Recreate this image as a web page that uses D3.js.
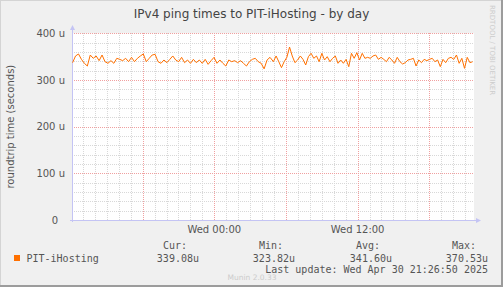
<!DOCTYPE html>
<html>
<head>
<meta charset="utf-8">
<script src="https://cdn.jsdelivr.net/npm/d3@7"></script>
<style>
    body { margin: 0; background: #f0f0f0; }
    svg { display: block; }
    .sans { font-family: "DejaVu Sans", sans-serif; }
    .mono { font-family: "DejaVu Sans Mono", monospace; }
</style>
</head>
<body>
<div id="chart"></div>
<script>

    var title = "IPv4 ping times to PIT-iHosting - by day";
    var yTitle = "roundtrip time (seconds)";
    var seriesName = "PIT-iHosting";
    var yTicks = [0, 100, 200, 300, 400];
    var xLabelTimes = ["2025-04-30 00:00", "2025-04-30 12:00"];
    var xLabels = ["Wed 00:00", "Wed 12:00"];

    var statNames = ["Cur:", "Min:", "Avg:", "Max:"];
    var statValues = ["339.08u", "323.82u", "341.60u", "370.53u"];
    var lastUpdate = "Last update: Wed Apr 30 21:26:50 2025";

    // visible time window of the graph
    var windowSpan = ["2025-04-29 12:05", "2025-04-30 21:45"];

    // ping samples (microseconds) in two runs
    var runA = ["2025-04-29 12:08", "2025-04-30 04:40"];
    var valuesA = [
        337.1, 351.4, 355.7, 344.2, 335.7, 329.9, 353.5, 346.4, 351.4, 341.4,
        353.5, 339.2, 335.7, 341.4, 335.7, 346.4, 344.2, 341.4, 346.4, 339.2,
        348.5, 339.2, 346.4, 351.4, 355.7, 339.2, 346.4, 353.5, 354.9, 339.2,
        335.7, 342.8, 337.1, 344.2, 351.4, 342.8, 339.2, 348.5, 337.1, 342.8,
        335.7, 344.2, 337.1, 342.8, 335.7, 344.2, 333.5, 341.4, 348.5, 335.7,
        342.8, 335.7, 329.9, 342.8, 339.2, 341.4, 337.1, 341.4, 335.7, 329.9,
        339.2, 344.2, 346.4, 339.2, 335.7, 323.8, 342.8, 348.5
    ];
    var runB = ["2025-04-30 04:57", "2025-04-30 21:38"];
    var valuesB = [
        339.2, 351.4, 339.2, 326.4, 339.2, 348.5, 370.5, 351.4, 337.1, 342.8,
        351.4, 344.2, 332.1, 349.9, 357.1, 346.4, 351.4, 339.2, 357.1, 342.8,
        349.9, 339.2, 346.4, 351.4, 335.7, 342.8, 335.7, 344.2, 328.5, 357.1,
        346.4, 358.5, 342.8, 357.1, 346.4, 348.5, 346.4, 351.4, 353.5, 344.2,
        348.5, 344.2, 339.2, 348.5, 342.8, 335.7, 348.5, 339.2, 334.2, 337.1,
        342.8, 344.2, 346.4, 329.9, 342.8, 337.1, 344.2, 341.4, 344.2, 346.4,
        339.2, 342.8, 328.5, 344.2, 337.1, 346.4, 348.5, 344.2, 353.5, 335.7,
        346.4, 324.9, 348.5, 337.1, 339.1
    ];

    var parse = d3.utcParse("%Y-%m-%d %H:%M");

    function spread(run, values) {
        var t0 = parse(run[0]).getTime(), t1 = parse(run[1]).getTime();
        var step = (t1 - t0) / (values.length - 1);
        return values.map(function (v, i) { return {t: new Date(t0 + i * step), v: v}; });
    }
    var data = spread(runA, valuesA).concat(spread(runB, valuesB));

    var W = 503, H = 287;
    var plot = {left: 72, right: 474, top: 33.3, bottom: 220};

    var svg = d3.select("#chart").append("svg")
        .attr("width", W)
        .attr("height", H);

    svg.append("rect").attr("width", W).attr("height", H).attr("fill", "#f0f0f0");
    // bevelled frame
    svg.append("line").attr("x1", 0).attr("y1", 0.5).attr("x2", W).attr("y2", 0.5).attr("stroke", "#d4d4d4");
    svg.append("line").attr("x1", 0.5).attr("y1", 0).attr("x2", 0.5).attr("y2", H).attr("stroke", "#d4d4d4");
    svg.append("rect").attr("x", W - 2).attr("y", 0).attr("width", 2).attr("height", H).attr("fill", "#9c9c9c");
    svg.append("rect").attr("x", 0).attr("y", H - 2).attr("width", W).attr("height", 2).attr("fill", "#9c9c9c");

    var x = d3.scaleUtc()
        .domain([parse(windowSpan[0]), parse(windowSpan[1])])
        .range([plot.left, plot.right]);

    var y = d3.scaleLinear()
        .domain([0, 400])
        .range([plot.bottom, plot.top]);

    // plot canvas
    svg.append("rect")
        .attr("x", plot.left).attr("y", plot.top)
        .attr("width", plot.right - plot.left)
        .attr("height", plot.bottom - plot.top)
        .attr("fill", "#ffffff");

    var grid = svg.append("g").attr("shape-rendering", "crispEdges");

    // minor grid
    var minorY = d3.range(20, 401, 20).filter(function (d) { return d % 100 !== 0; });
    grid.selectAll("line.minory").data(minorY).enter().append("line")
        .attr("x1", plot.left).attr("x2", plot.right)
        .attr("y1", function (d) { return Math.round(y(d)) + 0.5; })
        .attr("y2", function (d) { return Math.round(y(d)) + 0.5; })
        .attr("stroke", "#d8d8d8").attr("stroke-dasharray", "1,1");

    var hours = d3.utcHour.range(x.domain()[0], x.domain()[1]).filter(function (d) { return d.getUTCHours() % 6 !== 0; });
    grid.selectAll("line.minorx").data(hours).enter().append("line")
        .attr("y1", plot.top).attr("y2", plot.bottom)
        .attr("x1", function (d) { return Math.round(x(d)) + 0.5; })
        .attr("x2", function (d) { return Math.round(x(d)) + 0.5; })
        .attr("stroke", "#d8d8d8").attr("stroke-dasharray", "1,1");

    // major grid
    grid.selectAll("line.majory").data(yTicks.filter(function (d) { return d > 0; })).enter().append("line")
        .attr("x1", plot.left).attr("x2", plot.right)
        .attr("y1", function (d) { return Math.round(y(d)) + 0.5; })
        .attr("y2", function (d) { return Math.round(y(d)) + 0.5; })
        .attr("stroke", "#f0a0a0").attr("stroke-dasharray", "1,1");

    var sixHours = d3.utcHour.every(6).range(x.domain()[0], x.domain()[1]);
    grid.selectAll("line.majorx").data(sixHours).enter().append("line")
        .attr("y1", plot.top).attr("y2", plot.bottom)
        .attr("x1", function (d) { return Math.round(x(d)) + 0.5; })
        .attr("x2", function (d) { return Math.round(x(d)) + 0.5; })
        .attr("stroke", "#f0a0a0").attr("stroke-dasharray", "1,1");

    // axes with arrows
    var axisColor = "#c4c4f4";
    svg.append("line")
        .attr("x1", plot.left + 0.5).attr("x2", plot.left + 0.5)
        .attr("y1", plot.bottom + 2).attr("y2", 27)
        .attr("stroke", axisColor);
    svg.append("path")
        .attr("d", "M" + (plot.left - 2) + ",30 L" + (plot.left + 0.5) + ",25 L" + (plot.left + 3) + ",30 Z")
        .attr("fill", axisColor);
    svg.append("line")
        .attr("x1", plot.left - 2).attr("x2", 478)
        .attr("y1", plot.bottom + 0.5).attr("y2", plot.bottom + 0.5)
        .attr("stroke", axisColor);
    svg.append("path")
        .attr("d", "M476," + (plot.bottom - 2) + " L481," + (plot.bottom + 0.5) + " L476," + (plot.bottom + 3) + " Z")
        .attr("fill", axisColor);

    // y tick labels
    svg.selectAll("text.ytick").data(yTicks).enter().append("text")
        .attr("class", "sans")
        .attr("x", function (d) { return d === 0 ? 58 : 65; })
        .attr("y", function (d) { return y(d) + 3.7; })
        .attr("text-anchor", "end")
        .attr("font-size", 10)
        .attr("fill", "#555")
        .text(function (d) { return d === 0 ? "0" : d + " u"; });

    // x tick labels
    svg.selectAll("text.xtick").data(xLabelTimes).enter().append("text")
        .attr("class", "sans")
        .attr("x", function (d) { return x(parse(d)); })
        .attr("y", 233)
        .attr("text-anchor", "middle")
        .attr("font-size", 10)
        .attr("fill", "#555")
        .text(function (d, i) { return xLabels[i]; });

    // y axis title
    svg.append("text")
        .attr("class", "sans")
        .attr("transform", "translate(14," + ((plot.top + plot.bottom) / 2) + ") rotate(-90)")
        .attr("text-anchor", "middle")
        .attr("font-size", 10)
        .attr("fill", "#555")
        .text(yTitle);

    // title
    svg.append("text")
        .attr("class", "sans")
        .attr("x", 251.5).attr("y", 18)
        .attr("text-anchor", "middle")
        .attr("font-size", 12)
        .attr("fill", "#444")
        .text(title);

    // series line
    var line = d3.line()
        .x(function (d) { return x(d.t); })
        .y(function (d) { return y(d.v); });
    svg.append("path")
        .datum(data)
        .attr("d", line)
        .attr("fill", "none")
        .attr("stroke", "#ff7000")
        .attr("stroke-width", 1);

    // legend
    svg.append("rect")
        .attr("x", 14).attr("y", 255).attr("width", 6).attr("height", 6)
        .attr("fill", "#ff7000");
    svg.append("text").attr("class", "mono")
        .attr("x", 26.5).attr("y", 261.5)
        .attr("font-size", 10).attr("fill", "#555")
        .text(seriesName);

    var statRight = [187, 283, 380, 476];
    svg.selectAll("text.sname").data(statNames).enter().append("text")
        .attr("class", "mono")
        .attr("x", function (d, i) { return statRight[i]; })
        .attr("y", 249)
        .attr("text-anchor", "end")
        .attr("font-size", 10).attr("fill", "#555")
        .text(function (d) { return d; });
    svg.selectAll("text.svalue").data(statValues).enter().append("text")
        .attr("class", "mono")
        .attr("x", function (d, i) { return statRight[i] + 12; })
        .attr("y", 261.5)
        .attr("text-anchor", "end")
        .attr("font-size", 10).attr("fill", "#555")
        .text(function (d) { return d; });

    svg.append("text").attr("class", "mono")
        .attr("x", 488).attr("y", 272.5)
        .attr("text-anchor", "end")
        .attr("font-size", 10).attr("fill", "#555")
        .text(lastUpdate);

    // watermarks
    svg.append("text").attr("class", "sans")
        .attr("x", 252).attr("y", 279.5)
        .attr("text-anchor", "middle")
        .attr("font-size", 7.5).attr("fill", "#cccccc")
        .text("Munin 2.0.33");

    svg.append("text").attr("class", "sans")
        .attr("transform", "translate(490,5) rotate(90)")
        .attr("font-size", 7).attr("fill", "#cccccc")
        .text("RRDTOOL / TOBI OETIKER");

</script>
</body>
</html>
